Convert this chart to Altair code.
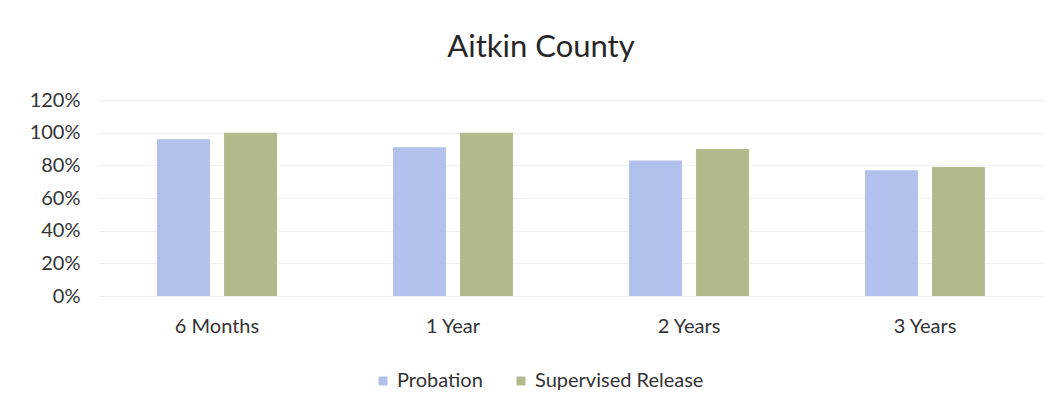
import altair as alt
import pandas as pd

periods = ["6 Months", "1 Year", "2 Years", "3 Years"]
series = ["Probation", "Supervised Release"]
probation = [0.96, 0.91, 0.83, 0.77]
supervised = [1.00, 1.00, 0.90, 0.79]
y_ticks = [0, 0.2, 0.4, 0.6, 0.8, 1.0, 1.2]
colors = ["#b1c1ec", "#b2b98a"]

rows = []
for p, a, b in zip(periods, probation, supervised):
    rows.append({"period": p, "series": series[0], "value": a})
    rows.append({"period": p, "series": series[1], "value": b})
df = pd.DataFrame(rows)

FONT = "Lato"
TXT = "#333333"

chart = alt.Chart(df).mark_bar().encode(
    x=alt.X("period:N", sort=periods, title=None,
            scale=alt.Scale(paddingInner=0.492, paddingOuter=0.246),
            axis=alt.Axis(labelAngle=0, ticks=False, domain=False, grid=False,
                          labelFontSize=20, labelColor=TXT, labelFont=FONT,
                          labelPadding=20)),
    xOffset=alt.XOffset("series:N", sort=series,
                        scale=alt.Scale(paddingInner=0.21, paddingOuter=0)),
    y=alt.Y("value:Q", title=None,
            scale=alt.Scale(domain=[0, 1.2], nice=False),
            axis=alt.Axis(values=y_ticks, format=".0%", ticks=False, domain=False,
                          gridColor="#f1f1f1", gridWidth=1,
                          labelFontSize=20, labelColor=TXT, labelFont=FONT,
                          labelPadding=19)),
    color=alt.Color("series:N", sort=series,
                    scale=alt.Scale(domain=series, range=colors),
                    legend=alt.Legend(title=None, orient="none", direction="horizontal",
                                      legendX=274, legendY=271,
                                      symbolType="square", symbolSize=80,
                                      labelFontSize=20, labelColor=TXT, labelFont=FONT,
                                      labelLimit=400, columnPadding=28)),
).properties(
    width=944,
    height=196,
    title=alt.TitleParams("Aitkin County", fontSize=31, font=FONT, fontWeight="normal",
                          color="#262626", offset=26, dx=-30),
    padding={"left": 29, "top": 32, "right": 5, "bottom": 10},
).configure_view(stroke=None)

chart.save("out.html", embed_options={"renderer": "svg", "actions": False})
